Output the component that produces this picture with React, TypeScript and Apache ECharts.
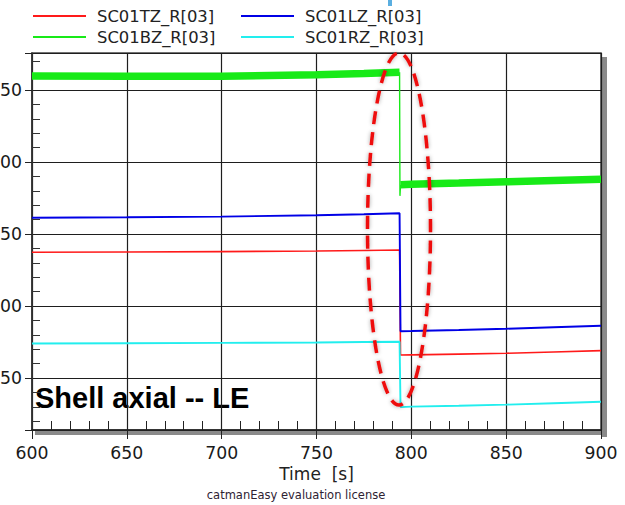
import React, { useEffect, useRef } from "react";
import * as echarts from "echarts";

const SERIES_NAMES = ["SC01TZ_R[03]", "SC01LZ_R[03]", "SC01BZ_R[03]", "SC01RZ_R[03]"];
const SERIES_COLORS = ["#ff1a1a", "#0000e6", "#18ea18", "#22eeee"];

const X_MIN = 600;
const X_MAX = 900;
const X_TICKS = [600, 650, 700, 750, 800, 850, 900];
const Y_MIN = 13.9;
const Y_MAX = 275.7;
const Y_TICKS = [50, 100, 150, 200, 250];

// time stamps before and after the step at ~794 s
const T_PRE = [600, 650, 700, 750, 775, 793.8];
const T_POST = [794.3, 800, 825, 850, 875, 900];

const TZ_PRE = [137.3, 137.5, 137.8, 138.2, 138.6, 138.9];
const TZ_POST = [66.0, 66.1, 66.6, 67.2, 68.1, 69.0];
const LZ_PRE = [161.3, 161.6, 162.1, 163.0, 163.7, 164.4];
const LZ_POST = [82.5, 82.6, 83.3, 84.2, 85.3, 86.3];
const BZ_PRE = [259.7, 259.5, 259.6, 260.6, 261.4, 262.3];
const BZ_POST = [184.2, 184.6, 185.4, 186.3, 187.2, 188.0];
const RZ_PRE = [74.0, 74.1, 74.4, 74.7, 75.0, 75.2];
const RZ_POST = [29.8, 30.1, 30.7, 31.5, 32.5, 33.5];

// thin green transition (drop with undershoot)
const BZ_STEP_T = [793.8, 794.0, 794.3];
const BZ_STEP_V = [262.3, 176.5, 184.2];

const zip = (t: number[], v: number[]) => t.map((x, i) => [x, v[i]]);

const ANNOTATION = "Shell axial -- LE";
const LICENSE = "catmanEasy evaluation license";
const X_NAME = "Time  [s]";

// legend line of 53px followed by a 6px blank before the text
const LEGEND_ICON = "path://M0,0H53V2H0ZM58.99,0H59V2H58.99Z";

export default function App() {
  const ref = useRef<HTMLDivElement>(null);
  useEffect(() => {
    if (!ref.current) return;
    const chart = echarts.init(ref.current, null, { renderer: "svg" });
    const font = "DejaVu Sans";
    const thin = (name: string, color: string, data: any[], width = 1.6) => ({
      type: "line",
      name,
      data,
      showSymbol: false,
      symbol: "none",
      connectNulls: false,
      lineStyle: { color, width },
      itemStyle: { color },
      emphasis: { disabled: true },
    });
    const legendAt = (i: number, left: number, top: number) => ({
      data: [SERIES_NAMES[i]],
      left,
      top,
      padding: 0,
      icon: LEGEND_ICON,
      itemWidth: 59,
      itemHeight: 2,
      selectedMode: false,
      textStyle: { fontFamily: font, fontSize: 16.4, color: "#222" },
    });
    chart.setOption({
      animation: false,
      backgroundColor: "#ffffff",
      textStyle: { fontFamily: font },
      legend: [
        legendAt(0, 33, 8),
        legendAt(1, 241, 8),
        legendAt(2, 33, 29),
        legendAt(3, 241, 29),
      ],
      grid: {
        left: 32,
        right: 24,
        top: 53,
        bottom: 75,
        containLabel: false,
        outerBoundsMode: "none",
        show: true,
        backgroundColor: "#ffffff",
        borderColor: "#444",
        borderWidth: 1.5,
      },
      xAxis: [
        {
          type: "value",
          min: X_MIN,
          max: X_MAX,
          interval: 50,
          name: X_NAME,
          nameLocation: "middle",
          nameGap: 34,
          nameTextStyle: { fontFamily: font, fontSize: 17, color: "#222" },
          axisLine: { show: true, lineStyle: { color: "#222", width: 1.6 } },
          axisTick: { show: true, inside: false, length: 9, lineStyle: { color: "#222" } },
          axisLabel: {
            fontFamily: font,
            fontSize: 17.3,
            color: "#1a1a1a",
            margin: 14,
            customValues: X_TICKS,
          },
          splitLine: { show: true, lineStyle: { color: "#1e1e1e", width: 1.2 } },
        },
        {
          type: "value",
          min: X_MIN,
          max: X_MAX,
          interval: 50,
          position: "bottom",
          axisLine: { show: false },
          axisTick: { show: false, inside: true },
          minorTick: { show: true, splitNumber: 5, length: 9, lineStyle: { color: "#222", width: 1 } },
          axisLabel: { show: false },
          splitLine: { show: false },
        },
      ],
      yAxis: [
        {
          type: "value",
          min: Y_MIN,
          max: Y_MAX,
          position: "left",
          axisLine: { show: true, lineStyle: { color: "#333", width: 1.6 } },
          axisTick: { show: true, inside: false, length: 7, lineStyle: { color: "#222" } },
          axisLabel: {
            fontFamily: font,
            fontSize: 17.3,
            color: "#1a1a1a",
            margin: 10,
            customValues: Y_TICKS,
          },
          splitLine: { show: true, lineStyle: { color: "#1e1e1e", width: 1.2 } },
        },
        {
          type: "value",
          min: Y_MIN,
          max: Y_MAX,
          position: "left",
          axisLine: { show: false },
          axisTick: { show: false, inside: true },
          minorTick: { show: true, splitNumber: 5, length: 8, lineStyle: { color: "#333", width: 1 } },
          axisLabel: { show: false },
          splitLine: { show: false },
        },
      ],
      series: [
        thin(SERIES_NAMES[0], SERIES_COLORS[0], [...zip(T_PRE, TZ_PRE), ...zip(T_POST, TZ_POST)], 1.6),
        thin(SERIES_NAMES[1], SERIES_COLORS[1], [...zip(T_PRE, LZ_PRE), ...zip(T_POST, LZ_POST)], 1.9),
        thin(
          SERIES_NAMES[2],
          SERIES_COLORS[2],
          [...zip(T_PRE, BZ_PRE), [794.05, "-"], ...zip(T_POST, BZ_POST)],
          7.5
        ),
        thin(SERIES_NAMES[2], SERIES_COLORS[2], zip(BZ_STEP_T, BZ_STEP_V), 1.4),
        thin(SERIES_NAMES[3], SERIES_COLORS[3], [...zip(T_PRE, RZ_PRE), ...zip(T_POST, RZ_POST)], 1.9),
      ],
      graphic: [
        { type: "rect", z: -1, shape: { x: 602, y: 57, width: 5, height: 380 }, style: { fill: "#8a8a8a" } },
        { type: "rect", z: -1, shape: { x: 35, y: 431, width: 572, height: 4 }, style: { fill: "#8a8a8a" } },
        { type: "rect", shape: { x: 388, y: 0, width: 4, height: 6 }, style: { fill: "#5aaee0" } },
        {
          type: "text",
          left: 35,
          top: 383,
          z: 0,
          style: {
            text: ANNOTATION,
            font: "bold 29px 'Liberation Sans', Arial, sans-serif",
            fill: "#000",
          },
        },
        {
          type: "ellipse",
          z: 100,
          shape: { cx: 399, cy: 229, rx: 31.5, ry: 176 },
          style: {
            fill: "none",
            stroke: "#ee1111",
            lineWidth: 3.5,
            lineDash: [13, 8],
            shadowBlur: 4,
            shadowColor: "rgba(0,0,0,0.35)",
          },
        },
        {
          type: "text",
          x: 296,
          y: 495,
          style: {
            text: LICENSE,
            font: "11.5px 'DejaVu Sans'",
            fill: "#2e2232",
            align: "center",
            verticalAlign: "middle",
          },
        },
      ],
    });
    return () => chart.dispose();
  }, []);
  return (
    <div
      ref={ref}
      style={{ position: "absolute", left: 0, top: 0, width: 625, height: 505 }}
    />
  );
}
